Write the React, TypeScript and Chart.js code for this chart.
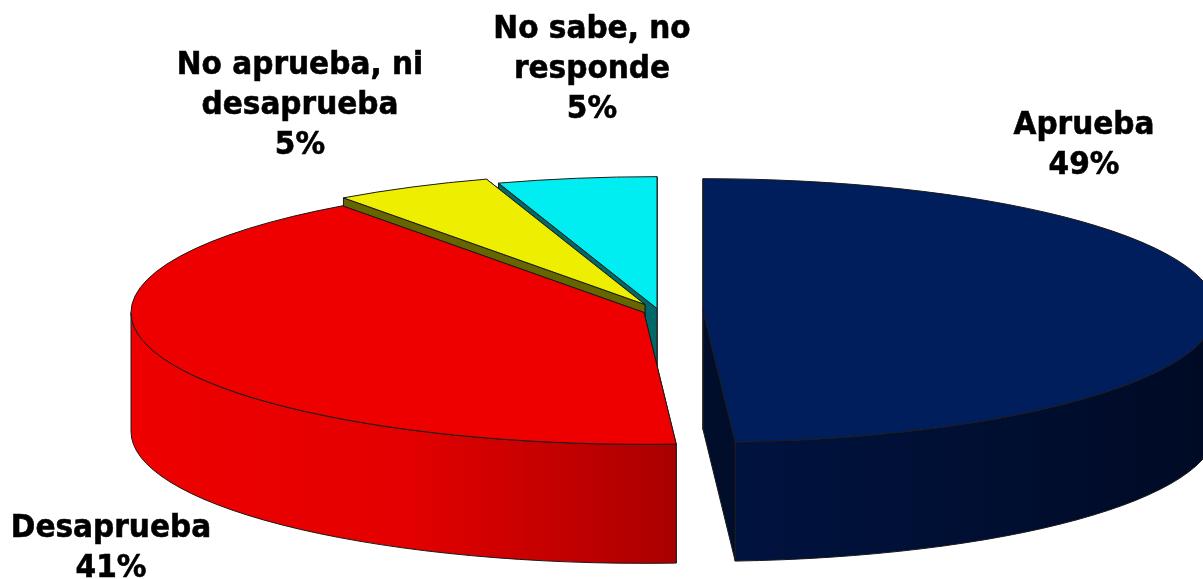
import React, { useEffect, useRef } from "react";
import { Chart, registerables } from "chart.js";

Chart.register(...registerables);

const categories = ["Aprueba", "Desaprueba", "No aprueba, ni desaprueba", "No sabe, no responde"];
const values = [49, 41, 5, 5];
const labelLines = [["Aprueba", "49%"], ["Desaprueba", "41%"], ["No aprueba, ni", "desaprueba", "5%"], ["No sabe, no", "responde", "5%"]];

const colors = ["#001e5c", "#ee0000", "#eeee00", "#00eef2"];
const faceColors = ["#000e2c", "#a80000", "#666600", "#006868"];
const explode = [[43, -2], [-16, 0], [-15, -8], [-3, -4]];
const labelX = [1084, 111, 300, 592];
const labelY = [126, 529, 66, 30];
const drawOrder = [3, 2, 1, 0];
const SQUASH = 0.257;
const DEPTH = 119;

function wallFill(ctx: CanvasRenderingContext2D, i: number, left: number, right: number) {
  const g = ctx.createLinearGradient(left, 0, right, 0);
  if (i === 0) {
    g.addColorStop(0, "#00133f");
    g.addColorStop(0.35, "#001036");
    g.addColorStop(1, "#000a24");
  } else {
    g.addColorStop(0, "#ee0000");
    g.addColorStop(0.5, "#e40000");
    g.addColorStop(1, "#aa0000");
  }
  return g;
}

const pie3d = {
  id: "pie3d",
  beforeDatasetDraw(chart: any) {
    const ctx = chart.ctx as CanvasRenderingContext2D;
    const arcs = chart.getDatasetMeta(0).data;
    for (const i of drawOrder) {
      const arc = arcs[i];
      const cx = arc.x + explode[i][0];
      const cy = arc.y + explode[i][1];
      const r = arc.outerRadius;
      const ry = r * SQUASH;
      const a0 = arc.startAngle;
      const a1 = arc.endAngle;
      const px = (a: number) => cx + r * Math.cos(a);
      const py = (a: number) => cy + ry * Math.sin(a);
      ctx.save();
      ctx.lineWidth = 1;
      ctx.strokeStyle = "#1a1a1a";
      ctx.lineJoin = "round";
      // radial cut faces, extruded downward
      for (const a of [a1, a0]) {
        ctx.beginPath();
        ctx.moveTo(cx, cy);
        ctx.lineTo(px(a), py(a));
        ctx.lineTo(px(a), py(a) + DEPTH);
        ctx.lineTo(cx, cy + DEPTH);
        ctx.closePath();
        ctx.fillStyle = faceColors[i];
        ctx.fill();
        ctx.stroke();
      }
      // outer wall (front half of the rim only)
      const s = Math.max(a0, 0);
      const e = Math.min(a1, Math.PI);
      if (e > s) {
        ctx.beginPath();
        ctx.ellipse(cx, cy, r, ry, 0, s, e);
        ctx.ellipse(cx, cy + DEPTH, r, ry, 0, e, s, true);
        ctx.closePath();
        ctx.fillStyle = i === 0 ? wallFill(ctx, 0, px(e), px(s)) : wallFill(ctx, 1, px(e), px(s));
        ctx.fill();
        ctx.stroke();
      }
      // top surface: the library's arc element, squashed
      ctx.save();
      ctx.translate(cx, cy);
      ctx.scale(1, SQUASH);
      ctx.translate(-arc.x, -arc.y);
      arc.draw(ctx);
      ctx.restore();
      ctx.beginPath();
      ctx.moveTo(cx, cy);
      ctx.ellipse(cx, cy, r, ry, 0, a0, a1);
      ctx.closePath();
      ctx.stroke();
      ctx.restore();
    }
    return false;
  },
  afterDraw(chart: any) {
    const ctx = chart.ctx as CanvasRenderingContext2D;
    ctx.fillStyle = "#000000";
    ctx.strokeStyle = "#000000";
    ctx.lineWidth = 0.6;
    ctx.font = "bold 31.5px 'DejaVu Sans'";
    ctx.textAlign = "center";
    ctx.textBaseline = "middle";
    labelLines.forEach((lines, i) => {
      lines.forEach((t, j) => {
        ctx.save();
        ctx.translate(labelX[i], labelY[i] + j * 40);
        ctx.scale(0.94, 1);
        ctx.fillText(t, 0, 0);
        ctx.strokeText(t, 0, 0);
        ctx.restore();
      });
    });
  },
};

export default function App() {
  const ref = useRef<HTMLCanvasElement>(null);
  useEffect(() => {
    document.body.style.margin = "0";
    const chart = new Chart(ref.current!, {
      type: "pie",
      data: {
        labels: categories,
        datasets: [{ data: values, backgroundColor: colors, borderWidth: 0, radius: 513 }],
      },
      options: {
        responsive: false,
        animation: false,
        layout: { padding: { left: 117, top: 46 } },
        plugins: { legend: { display: false }, tooltip: { enabled: false } },
      },
      plugins: [pie3d],
    } as any);
    return () => chart.destroy();
  }, []);
  return <canvas ref={ref} width={1203} height={579} style={{ display: "block" }} />;
}
